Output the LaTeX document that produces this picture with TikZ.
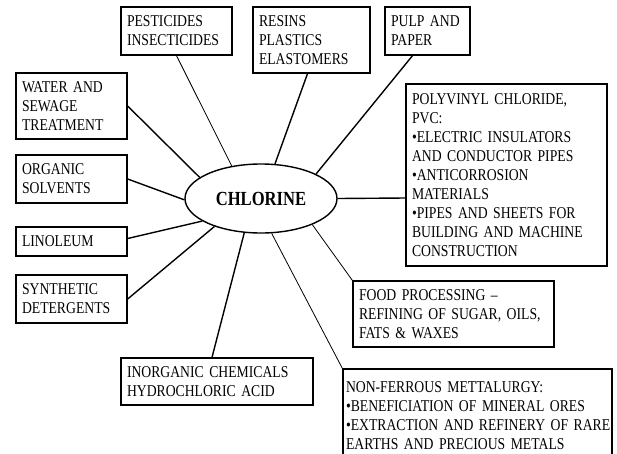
\documentclass[tikz,border=0pt]{standalone}
\usepackage{fontspec}
\setmainfont{Liberation Serif}[FakeStretch=0.83]
\usetikzlibrary{shapes.geometric}
\begin{document}
\begin{tikzpicture}[x=1pt,y=-1pt,
  box/.style={draw,line width=1.3pt,rectangle,inner xsep=6pt,inner ysep=0pt,align=left,font=\fontsize{16.5}{19}\selectfont},
  thicklink/.style={line width=1.4pt},
  thinlink/.style={line width=0.8pt}]
\useasboundingbox (0,0) rectangle (617,453);
\clip (0,0) rectangle (617,453);
\fill[white] (0,0) rectangle (617,453);
\node[draw,ellipse,line width=1.4pt,minimum width=152pt,minimum height=69pt,inner sep=0pt,font=\fontsize{20}{22}\selectfont\bfseries] (cl) at (261,198.5) {CHLORINE};
\node[box,minimum width=111pt,minimum height=48pt,text width=99pt] (pest) at (176.5,31) {PESTICIDES\\INSECTICIDES};
\node[box,minimum width=117pt,minimum height=66pt,text width=105pt] (resins) at (311.5,40) {RESINS\\PLASTICS\\ELASTOMERS};
\node[box,minimum width=85pt,minimum height=48pt,text width=73pt] (pulp) at (427.5,31) {PULP AND\\PAPER};
\node[box,minimum width=201pt,minimum height=182pt,text width=189pt] (pvc) at (506.5,175) {POLYVINYL CHLORIDE,\\PVC:\\•ELECTRIC INSULATORS\\AND CONDUCTOR PIPES\\•ANTICORROSION\\MATERIALS\\•PIPES AND SHEETS FOR\\BUILDING AND MACHINE\\CONSTRUCTION};
\node[box,minimum width=111pt,minimum height=66pt,text width=99pt] (water) at (71.5,106) {WATER AND\\SEWAGE\\TREATMENT};
\node[box,minimum width=111pt,minimum height=48pt,text width=99pt] (organic) at (71.5,179) {ORGANIC\\SOLVENTS};
\node[box,minimum width=111pt,minimum height=29pt,text width=99pt] (lino) at (71.5,241.5) {LINOLEUM};
\node[box,minimum width=111pt,minimum height=48pt,text width=99pt] (synth) at (71.5,299) {SYNTHETIC\\DETERGENTS};
\node[box,minimum width=192pt,minimum height=47pt,text width=180pt] (inorg) at (217,381.5) {INORGANIC CHEMICALS\\HYDROCHLORIC ACID};
\node[box,minimum width=201pt,minimum height=66pt,text width=189pt] (food) at (453.5,314) {FOOD PROCESSING –\\REFINING OF SUGAR, OILS,\\FATS \& WAXES};
\node[box,inner xsep=3pt,minimum width=269pt,minimum height=93pt,text width=263pt] (nonf) at (477.5,415.5) {NON-FERROUS METTALURGY:\\\mbox{•BENEFICIATION OF MINERAL ORES}\\\mbox{•EXTRACTION AND REFINERY OF RARE}\\EARTHS AND PRECIOUS METALS};
\draw[thicklink] (water.east) -- (cl.161.4);
\draw[thinlink] (pest.south) -- (cl.132.8);
\draw[thicklink] ([xshift=-4pt]resins.south) -- (cl.68.5);
\draw[thicklink] ([xshift=-15pt]pulp.south) -- (cl.24.5);
\draw[thicklink] (cl.0) -- ([yshift=-23pt]pvc.west);
\draw[thinlink] (cl.-27.4) -- (food.north west);
\draw[thinlink] (cl.-73.2) -- (nonf.north west);
\draw[thicklink] (cl.-116.3) -- ([xshift=-5pt]inorg.north);
\draw[thicklink] (synth.east) -- (cl.211.1);
\draw[thicklink] ([yshift=3pt]lino.east) -- (cl.201.1);
\draw[thicklink] (organic.east) -- (cl.181);
\end{tikzpicture}
\end{document}
